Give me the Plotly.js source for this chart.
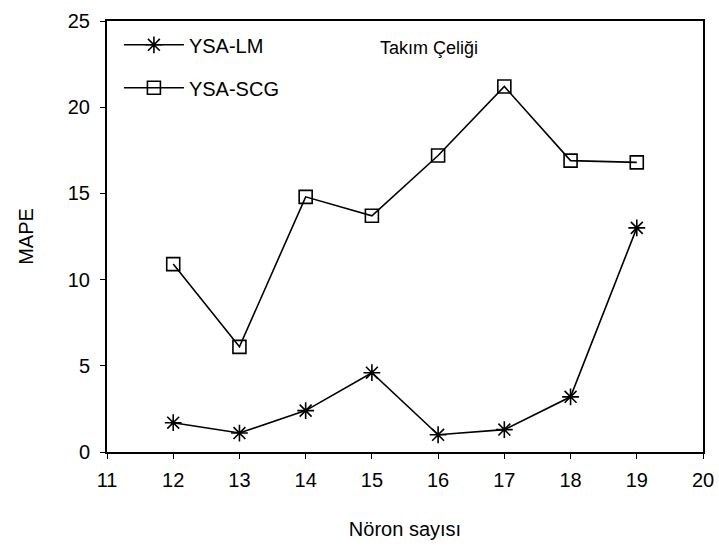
<!DOCTYPE html>
<html>
<head>
<meta charset="utf-8">
<script src="https://cdn.plot.ly/plotly-3.0.1.min.js"></script>
<style>html,body{margin:0;padding:0;background:#fff;}#chart{width:719px;height:549px;}</style>
</head>
<body>
<div id="chart"></div>
<script>
const noronSayisi = [12, 13, 14, 15, 16, 17, 18, 19];
const ysaLM = [1.7, 1.1, 2.4, 4.6, 1.0, 1.3, 3.2, 13.0];
const ysaSCG = [10.9, 6.1, 14.8, 13.7, 17.2, 21.2, 16.9, 16.8];
const xTicks = [11, 12, 13, 14, 15, 16, 17, 18, 19, 20];
const yTicks = [0, 5, 10, 15, 20, 25];

const font = 'Liberation Sans, Arial, sans-serif';
const traces = [
  {x: noronSayisi, y: ysaLM, name: 'YSA-LM', mode: 'lines+markers', legendgroup: 'a',
   line: {color: '#000', width: 1.6}, marker: {symbol: 'asterisk-open', size: 14, color: '#000', line: {color: '#000', width: 1.6}}},
  {x: noronSayisi, y: ysaSCG, name: 'YSA-SCG', mode: 'lines+markers', legendgroup: 'b',
   line: {color: '#000', width: 1.6}, marker: {symbol: 'square-open', size: 13, color: '#000', line: {color: '#000', width: 1.6}}}
];
const layout = {
  width: 719, height: 549,
  margin: {l: 107, r: 16, t: 21, b: 97},
  paper_bgcolor: '#fff', plot_bgcolor: '#fff',
  font: {family: font, size: 20, color: '#000'},
  showlegend: true,
  legend: {x: 0.02, y: 0.99, xanchor: 'left', yanchor: 'top', bgcolor: 'rgba(0,0,0,0)', borderwidth: 0,
           itemwidth: 60,
           font: {family: font, size: 20, color: '#000'}, traceorder: 'grouped', tracegroupgap: 14},
  xaxis: {range: [11, 20], tickvals: xTicks, ticks: 'outside', ticklen: 5, tickwidth: 1, tickcolor: '#000',
          showline: true, linecolor: '#000', linewidth: 2, mirror: true, showgrid: false, zeroline: false,
          ticklabelstandoff: 4,
          tickfont: {family: font, size: 20, color: '#000'},
          title: {text: 'Nöron sayısı', font: {family: font, size: 20, color: '#000'}, standoff: 32}},
  yaxis: {range: [0, 25], tickvals: yTicks, ticks: 'outside', ticklen: 5, tickwidth: 1, tickcolor: '#000',
          showline: true, linecolor: '#000', linewidth: 2, mirror: true, showgrid: false, zeroline: false,
          ticklabelstandoff: 6,
          tickfont: {family: font, size: 20, color: '#000'},
          title: {text: 'MAPE', font: {family: font, size: 20, color: '#000'}, standoff: 29}},
  annotations: [{text: 'Takım Çeliği', xref: 'paper', yref: 'paper', x: 0.54, y: 0.937,
                 xanchor: 'center', yanchor: 'middle', showarrow: false,
                 font: {family: font, size: 18, color: '#000'}}]
};
Plotly.newPlot('chart', traces, layout, {displayModeBar: false});
</script>
</body>
</html>
